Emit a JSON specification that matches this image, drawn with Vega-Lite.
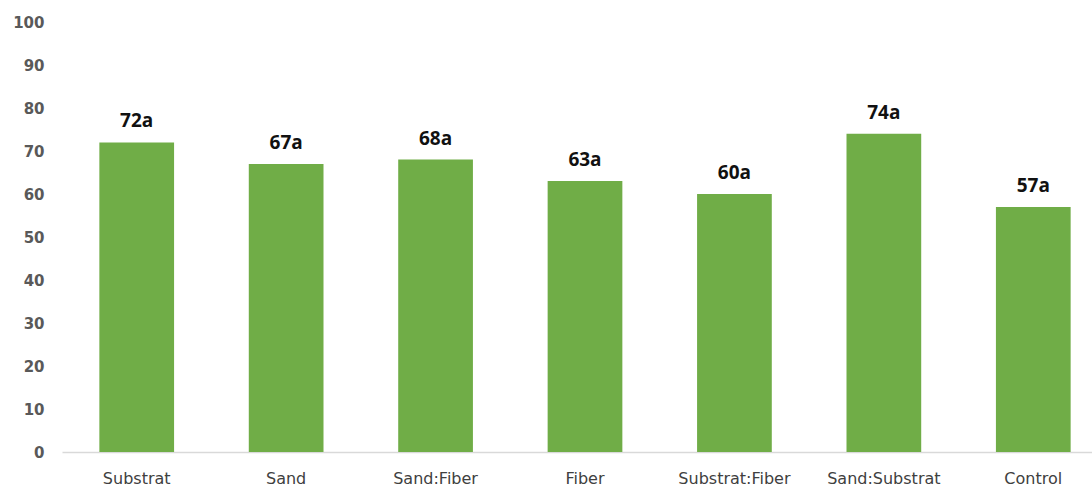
{
  "$schema": "https://vega.github.io/schema/vega-lite/v6.json",
  "width": 1030,
  "height": 430,
  "autosize": {"type": "none"},
  "padding": {"left": 62, "top": 22, "right": 0, "bottom": 36},
  "background": "white",
  "config": {
    "view": {"stroke": null},
    "font": "DejaVu Sans"
  },
  "data": {
    "values": [
      {"treatment": "Substrat", "value": 72, "label": "72a"},
      {"treatment": "Sand", "value": 67, "label": "67a"},
      {"treatment": "Sand:Fiber", "value": 68, "label": "68a"},
      {"treatment": "Fiber", "value": 63, "label": "63a"},
      {"treatment": "Substrat:Fiber", "value": 60, "label": "60a"},
      {"treatment": "Sand:Substrat", "value": 74, "label": "74a"},
      {"treatment": "Control", "value": 57, "label": "57a"}
    ]
  },
  "encoding": {
    "x": {
      "field": "treatment",
      "type": "nominal",
      "sort": null,
      "scale": {"range": [0, 1046], "paddingInner": 0.5, "paddingOuter": 0.25},
      "axis": {
        "title": null,
        "labelAngle": 0,
        "ticks": false,
        "domainColor": "#d9d9d9",
        "domainWidth": 1.5,
        "labelColor": "#404040",
        "labelFontSize": 16,
        "labelPadding": 18
      }
    },
    "y": {
      "field": "value",
      "type": "quantitative",
      "scale": {"domain": [0, 100]},
      "axis": {
        "title": null,
        "values": [0, 10, 20, 30, 40, 50, 60, 70, 80, 90, 100],
        "grid": false,
        "domain": false,
        "ticks": false,
        "labelColor": "#595959",
        "labelFontSize": 15,
        "labelFontWeight": "bold",
        "labelPadding": 18
      }
    }
  },
  "layer": [
    {"mark": {"type": "bar", "color": "#70ad47"}},
    {
      "mark": {
        "type": "text",
        "font": "Open Sans",
        "baseline": "alphabetic",
        "dy": -15,
        "fontSize": 19,
        "fontWeight": "bold",
        "color": "#111111"
      },
      "encoding": {"text": {"field": "label"}}
    }
  ]
}
